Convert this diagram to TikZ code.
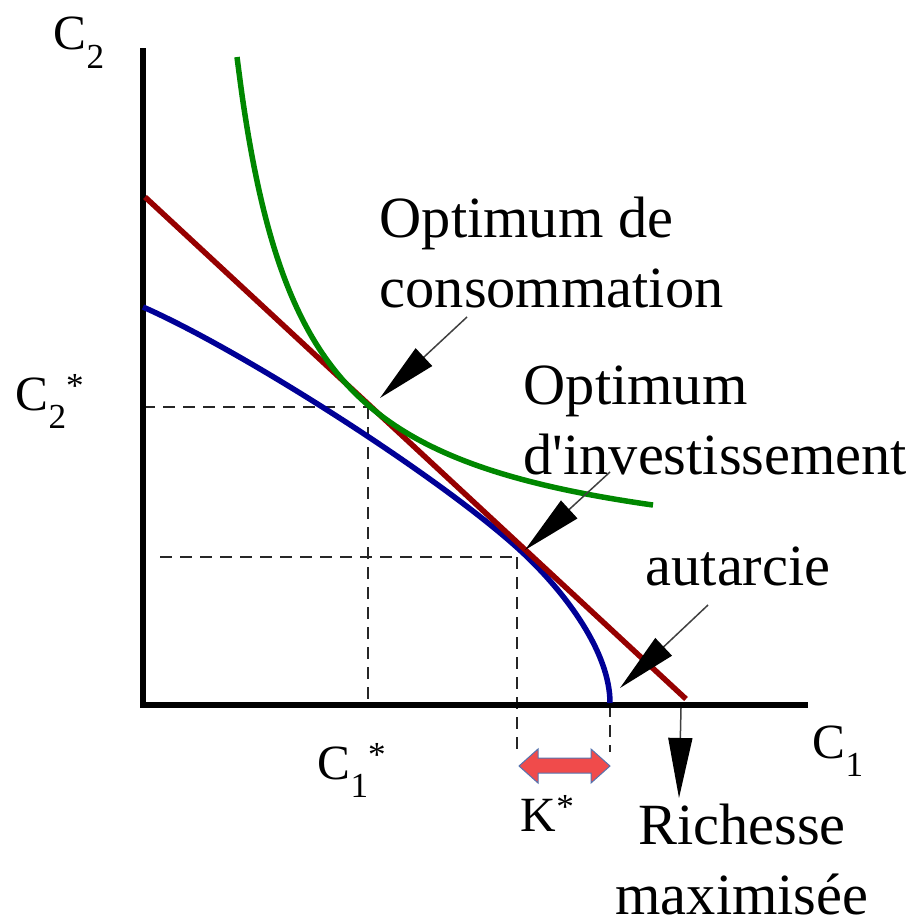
\documentclass[tikz,border=0pt]{standalone}
\usepackage{fontspec}
\setmainfont{Liberation Serif}
\usetikzlibrary{arrows.meta}
\newcommand{\lowsub}[1]{\raisebox{-0.38em}{\fontsize{10}{10}\selectfont #1}}
\newcommand{\highsup}[1]{\raisebox{0.25em}{\fontsize{10}{10}\selectfont #1}}
\definecolor{rougefonce}{RGB}{150,0,0}
\definecolor{vertcourbe}{RGB}{0,135,0}
\definecolor{bleucourbe}{RGB}{0,0,150}
\definecolor{rougeK}{RGB}{240,75,75}
\definecolor{bordK}{RGB}{85,115,175}
\begin{document}
\begin{tikzpicture}[x=0.01cm, y=-0.01cm,
	axe/.style={line width=0.06cm},
	proj/.style={dash pattern=on 0.12cm off 0.08cm, line width=0.015cm, black!85},
	courbe/.style={line width=0.055cm},
	fleche/.style={line width=0.015cm, black!75, -{Triangle[length=0.6cm, width=0.24cm, black]}},
	texte/.style={inner sep=0pt, font=\fontsize{16.6}{19.9}\selectfont},
	etiq/.style={inner sep=0pt, font=\fontsize{14}{16}\selectfont}]
	\useasboundingbox (0,0) rectangle (914,924);
	
	% projections en pointillés
	\draw[proj] (143,407) -- (368,407);
	\draw[proj] (368,407) -- (368,705);
	\draw[proj] (160,557) -- (517,557);
	\draw[proj] (517,557) -- (517,752);
	\draw[proj] (610,705) -- (610,752);
	
	% axes
	\draw[axe] (143,48) -- (143,705) -- (808,705);
	\node[etiq, anchor=base west] (c2) at (53,50) {C\lowsub{2}};
	\node[etiq, anchor=base west] (c1) at (812,758) {C\lowsub{1}};
	\node[etiq, anchor=base west] (c2s) at (15,410) {C\lowsub{2}\highsup{*}};
	\node[etiq, anchor=base west] (c1s) at (317,779) {C\lowsub{1}\highsup{*}};
	\node[etiq, anchor=base west] (ks) at (520,831) {K\highsup{*}};
	
	% frontière de production, droite de marché, indifférence
	\draw[courbe, draw=bleucourbe] (143,307) .. controls (243,351) and (442,478) .. (522,552)
		.. controls (567,594) and (610,653) .. (610,703);
	\draw[courbe, draw=rougefonce] (145,197) -- (686,699);
	\draw[courbe, draw=vertcourbe, domain=237:653, samples=80, smooth] plot (\x, {573.2 - 326.72/((\x-173.7)/100)});
	
	% investissement K*
	\draw[fill=rougeK, draw=bordK, line width=0.01cm] (519,766) -- (538,749) -- (538,758) -- (591,758)
		-- (591,749) -- (610,766) -- (591,783) -- (591,773) -- (538,773) -- (538,783) -- cycle;
	
	% textes
	\node[texte, anchor=north west, align=left] (optc) at (379,196) {Optimum de\\consommation};
	\node[texte, anchor=north west, align=left] (opti) at (523,365) {Optimum\\d\textquotesingle investissement};
	\node[texte, anchor=base west] (aut) at (645,585) {autarcie};
	\node[texte, anchor=south, align=center] (rich) at (742,916) {Richesse\\maximisée};
	
	% flèches
	\coordinate (fC) at (467,317);
	\coordinate (pC) at (380,398);
	\coordinate (fI) at (610,472);
	\coordinate (pI) at (525,550);
	\coordinate (fA) at (708,605);
	\coordinate (pA) at (620,688);
	\coordinate (fR) at (681,708);
	\coordinate (pR) at (679,798);
	\draw[fleche] (fC) -- (pC);
	\draw[fleche] (fI) -- (pI);
	\draw[fleche] (fA) -- (pA);
	\draw[fleche] (fR) -- (pR);
\end{tikzpicture}
\end{document}
